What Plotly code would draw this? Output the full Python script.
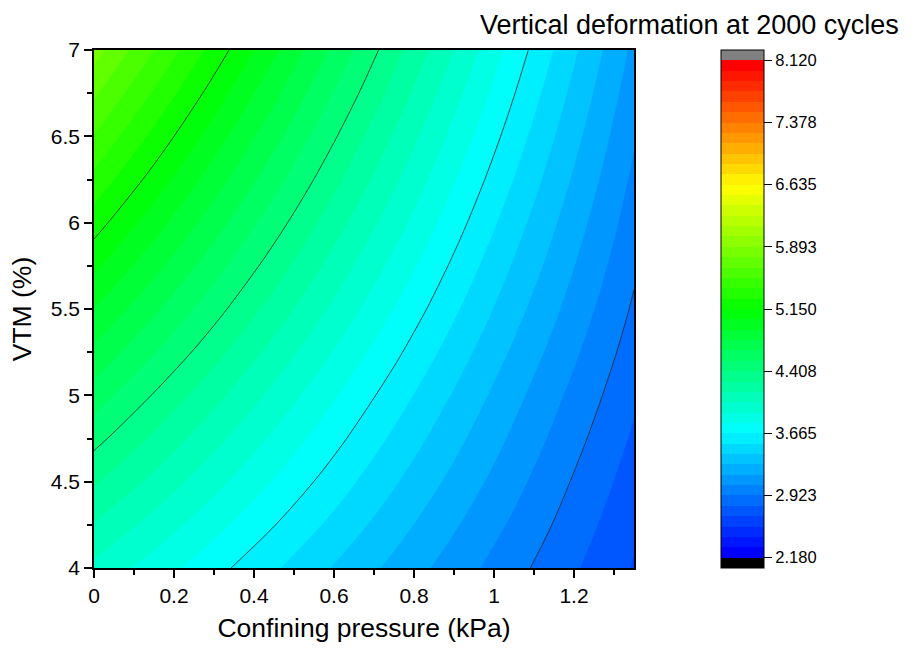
import plotly.graph_objects as go

# Data
confining_pressure = [0, 0.15, 0.3, 0.45, 0.6, 0.75, 0.9, 1.05, 1.2, 1.35]
vtm = [4, 4.25, 4.5, 4.75, 5, 5.25, 5.5, 5.75, 6, 6.25, 6.5, 6.75, 7]
deformation = [
    [4.005, 3.856, 3.707, 3.558, 3.409, 3.261, 3.112, 2.963, 2.814, 2.665],
    [4.153, 3.991, 3.830, 3.669, 3.508, 3.346, 3.185, 3.024, 2.863, 2.701],
    [4.301, 4.127, 3.953, 3.780, 3.606, 3.432, 3.259, 3.085, 2.911, 2.740],
    [4.449, 4.263, 4.076, 3.890, 3.704, 3.518, 3.332, 3.146, 2.962, 2.780],
    [4.597, 4.398, 4.200, 4.001, 3.803, 3.604, 3.406, 3.207, 3.013, 2.822],
    [4.749, 4.539, 4.328, 4.117, 3.906, 3.695, 3.484, 3.273, 3.066, 2.864],
    [4.902, 4.679, 4.456, 4.233, 4.009, 3.786, 3.563, 3.339, 3.120, 2.905],
    [5.055, 4.820, 4.584, 4.348, 4.113, 3.877, 3.641, 3.405, 3.173, 2.944],
    [5.208, 4.960, 4.712, 4.464, 4.216, 3.968, 3.720, 3.471, 3.225, 2.983],
    [5.361, 5.101, 4.840, 4.580, 4.319, 4.059, 3.798, 3.538, 3.278, 3.021],
    [5.514, 5.241, 4.968, 4.695, 4.422, 4.149, 3.877, 3.604, 3.331, 3.060],
    [5.667, 5.382, 5.096, 4.811, 4.526, 4.240, 3.955, 3.670, 3.384, 3.099],
    [5.820, 5.522, 5.225, 4.927, 4.629, 4.331, 4.034, 3.736, 3.438, 3.140],
]
level_start = 2.18
level_end = 8.12
level_step = 0.12375
line_step = 0.7425
cbar_tickvals = [2.18, 2.923, 3.665, 4.408, 5.15, 5.893, 6.635, 7.378, 8.12]
cbar_ticktext = ["2.180", "2.923", "3.665", "4.408", "5.150", "5.893", "6.635", "7.378", "8.120"]

FONT = "Liberation Sans, Arial, sans-serif"

# Stepped jet-like colour scale: one flat colour per band, black below, grey above
n_bands = round((level_end - level_start) / level_step)  # 48
n_slots = n_bands + 1  # 49
jet_stops = [(0.0, (0, 0, 255)), (0.25, (0, 255, 255)), (0.5, (0, 255, 0)),
             (0.75, (255, 255, 0)), (1.0, (255, 0, 0))]


def jet(t):
    for (t0, c0), (t1, c1) in zip(jet_stops[:-1], jet_stops[1:]):
        if t <= t1:
            u = (t - t0) / (t1 - t0)
            return "rgb(%d,%d,%d)" % tuple(round(a + (b - a) * u) for a, b in zip(c0, c1))
    return "rgb(255,0,0)"


colorscale = [[0.0, "#000000"], [0.9 / n_slots, "#000000"]]
for k in range(n_bands):
    col = jet(k / (n_bands - 1))
    colorscale.append([(k + 0.9) / n_slots, col])
    colorscale.append([(k + 1.9) / n_slots, col])
colorscale.append([(n_bands + 0.9) / n_slots, "#808080"])
colorscale.append([1.0, "#808080"])

fig = go.Figure()
fig.add_trace(go.Contour(
    x=confining_pressure, y=vtm, z=deformation,
    autocontour=False,
    contours=dict(start=level_start, end=level_end, size=level_step, coloring="fill"),
    zmin=level_start - level_step, zmax=level_end + level_step,
    colorscale=colorscale,
    line=dict(width=0, smoothing=1),
    colorbar=dict(
        x=(721 - 94) / 540, xanchor="left", xpad=0,
        y=0.5, yanchor="middle", len=1.0, lenmode="fraction", ypad=0,
        thickness=43, thicknessmode="pixels",
        outlinewidth=1, outlinecolor="black",
        tickmode="array", tickvals=cbar_tickvals, ticktext=cbar_ticktext,
        ticks="outside", ticklen=8, tickwidth=1, tickcolor="black",
        tickfont=dict(family=FONT, size=16.5, color="black"),
    ),
    hoverinfo="skip",
))
fig.add_trace(go.Contour(
    x=confining_pressure, y=vtm, z=deformation,
    autocontour=False,
    contours=dict(start=level_start, end=level_end, size=line_step, coloring="none"),
    line=dict(color="#222222", width=0.8, smoothing=1),
    showscale=False,
    hoverinfo="skip",
))

axis_common = dict(
    showline=True, linecolor="black", linewidth=1.6, mirror=True,
    ticks="outside", ticklen=8, tickwidth=1.6, tickcolor="black",
    showgrid=False, zeroline=False,
    tickfont=dict(family=FONT, size=21, color="black"),
)
fig.update_xaxes(
    range=[0, 1.35], tick0=0, dtick=0.2,
    minor=dict(dtick=0.1, ticks="outside", ticklen=5, tickwidth=1.6, tickcolor="black"),
    title=dict(text="Confining pressure (kPa)", font=dict(family=FONT, size=26.5, color="black"), standoff=12),
    **axis_common,
)
fig.update_yaxes(
    range=[4, 7], tick0=4, dtick=0.5,
    minor=dict(dtick=0.25, ticks="outside", ticklen=5, tickwidth=1.6, tickcolor="black"),
    title=dict(text="VTM (%)", font=dict(family=FONT, size=26.5, color="black"), standoff=12),
    **axis_common,
)
fig.add_annotation(
    text="Vertical deformation at 2000 cycles",
    xref="paper", yref="paper", x=(901 - 94) / 540, y=(568 - 25) / 518,
    xanchor="right", yanchor="middle", showarrow=False,
    font=dict(family=FONT, size=27, color="black"),
)
fig.update_layout(
    width=917, height=652,
    margin=dict(l=94, r=283, t=50, b=84),
    paper_bgcolor="white", plot_bgcolor="white",
    showlegend=False,
)
fig.write_html("out.html")
